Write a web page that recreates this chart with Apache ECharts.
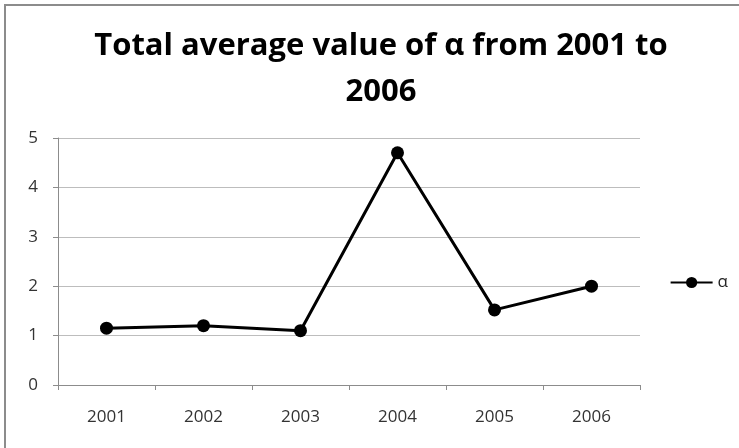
<!DOCTYPE html>
<html>
<head>
<meta charset="utf-8">
<script src="https://cdn.jsdelivr.net/npm/echarts@6/dist/echarts.min.js"></script>
<style>
  html, body { margin: 0; padding: 0; background: #fff; }
  #chart { width: 739px; height: 448px; }
</style>
</head>
<body>
<div id="chart"></div>
<script>
// Yearly averages of α
const years = ['2001', '2002', '2003', '2004', '2005', '2006'];
const alphaValues = [1.15, 1.2, 1.1, 4.7, 1.52, 2.0];
const yTicks = [0, 1, 2, 3, 4, 5];
const seriesName = 'α';
const titleText = 'Total average value of α from 2001 to\n2006';

const chart = echarts.init(document.getElementById('chart'), null, { renderer: 'canvas' });

const fontFamily = '"Open Sans", "Noto Sans", sans-serif';

chart.setOption({
  backgroundColor: '#ffffff',
  animation: false,
  graphic: [{
    type: 'rect',
    shape: { x: 5, y: 5, width: 760, height: 470 },
    style: { fill: 'none', stroke: '#8c8c8c', lineWidth: 2 },
    silent: true
  }],
  title: {
    text: titleText,
    left: 376,
    textAlign: 'center',
    top: 18,
    textStyle: {
      fontFamily: fontFamily,
      fontWeight: 'bold',
      fontSize: 31,
      lineHeight: 46,
      color: '#000'
    }
  },
  legend: {
    right: 6,
    top: 269,
    orient: 'vertical',
    itemWidth: 42,
    itemHeight: 14,
    itemGap: 4,
    data: [{ name: seriesName }],
    textStyle: { fontFamily: fontFamily, fontSize: 17, color: '#222' }
  },
  grid: { left: 58, right: 99, top: 138, bottom: 63, containLabel: false },
  xAxis: {
    type: 'category',
    data: years,
    boundaryGap: true,
    axisLine: { lineStyle: { color: '#8c8c8c', width: 1 } },
    axisTick: { show: true, alignWithLabel: false, length: 5, lineStyle: { color: '#8c8c8c' } },
    axisLabel: { fontFamily: fontFamily, fontSize: 17, color: '#333', margin: 24 }
  },
  yAxis: {
    type: 'value',
    min: yTicks[0],
    max: yTicks[yTicks.length - 1],
    interval: 1,
    axisLine: { show: true, lineStyle: { color: '#8c8c8c', width: 1 } },
    axisTick: { show: true, inside: false, length: 5, lineStyle: { color: '#8c8c8c' } },
    axisLabel: { fontFamily: fontFamily, fontSize: 17, color: '#333', margin: 20 },
    splitLine: { show: true, lineStyle: { color: '#bdbdbd', width: 1 } }
  },
  series: [{
    name: seriesName,
    type: 'line',
    data: alphaValues,
    symbol: 'circle',
    symbolSize: 13,
    lineStyle: { color: '#000', width: 3 },
    itemStyle: { color: '#000' }
  }]
});
</script>
</body>
</html>
